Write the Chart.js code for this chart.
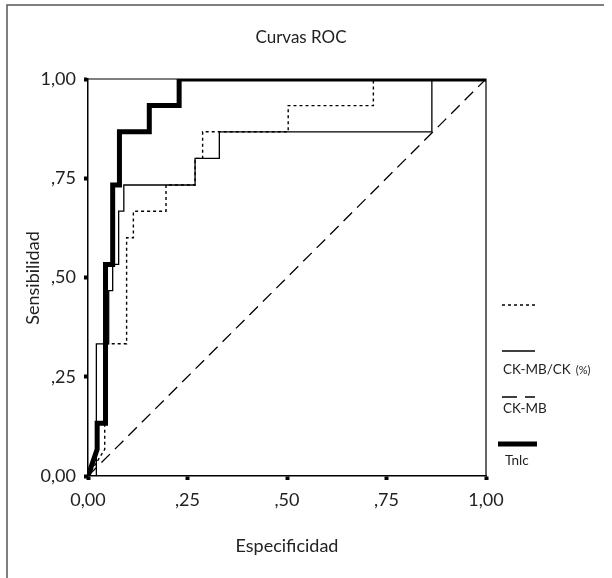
<!DOCTYPE html>
<html>
<head>
<meta charset="utf-8">
<title>Curvas ROC</title>
<script src="https://cdn.jsdelivr.net/npm/chart.js@4.4.1/dist/chart.umd.min.js"></script>
<style>
  html, body { margin: 0; padding: 0; background: #fff; }
  #roc { display: block; }
</style>
</head>
<body>
<canvas id="roc" width="612" height="578"></canvas>
<script>
// texts
const chartTitle = 'Curvas ROC';
const xTitle = 'Especificidad';
const yTitle = 'Sensibilidad';
const tickValues = [0, 0.25, 0.5, 0.75, 1];
const tickLabels = ['0,00', ',25', ',50', ',75', '1,00'];

// ROC curves (1 - especificidad, sensibilidad)
const tnicX = [0, 0.023, 0.023, 0.044, 0.044, 0.062, 0.062, 0.079, 0.079, 0.154, 0.154, 0.229, 0.229, 1];
const tnicY = [0, 0.067, 0.133, 0.133, 0.533, 0.533, 0.733, 0.733, 0.867, 0.867, 0.933, 0.933, 1, 1];

const ratioX = [0, 0.021, 0.021, 0.052, 0.052, 0.062, 0.062, 0.077, 0.077, 0.090, 0.090, 0.269, 0.269, 0.330, 0.330, 0.864, 0.864, 1];
const ratioY = [0, 0, 0.333, 0.333, 0.467, 0.467, 0.533, 0.533, 0.667, 0.667, 0.733, 0.733, 0.8, 0.8, 0.867, 0.867, 1, 1];

const ckmbX = [0, 0.042, 0.042, 0.097, 0.097, 0.114, 0.114, 0.196, 0.196, 0.269, 0.269, 0.288, 0.288, 0.503, 0.503, 0.717, 0.717, 1];
const ckmbY = [0, 0.067, 0.333, 0.333, 0.6, 0.6, 0.667, 0.667, 0.733, 0.733, 0.8, 0.8, 0.867, 0.867, 0.933, 0.933, 1, 1];

const refX = [0, 1];
const refY = [0, 1];

// legend, top to bottom (first entry has no text in the original)
const legendLabels = ['', 'CK-MB/CK', 'CK-MB', 'Tnlc'];
const legendSuffix = ['', '(%)', '', ''];

const FONT = 'Lato, "Noto Sans", sans-serif';
const TEXT = '#222';

function toPoints(xs, ys) {
  return xs.map((x, i) => ({ x: x, y: ys[i] }));
}

function lineSet(xs, ys, width, dash, order) {
  return {
    data: toPoints(xs, ys),
    showLine: true,
    borderColor: '#000',
    borderWidth: width,
    borderDash: dash,
    borderCapStyle: 'butt',
    borderJoinStyle: 'miter',
    pointRadius: 0,
    fill: false,
    tension: 0,
    order: order
  };
}

const datasets = [
  lineSet(tnicX, tnicY, 5, [], 0),
  lineSet(ratioX, ratioY, 1.3, [], 1),
  lineSet(ckmbX, ckmbY, 1.4, [3, 3], 2),
  lineSet(refX, refY, 1.3, [12, 7], 3)
];

// frame, titles and legend
const decor = {
  id: 'decor',
  afterDraw(chart) {
    const ctx = chart.ctx;
    const a = chart.chartArea;
    ctx.save();

    // outer frame
    ctx.strokeStyle = '#555';
    ctx.lineWidth = 1.5;
    ctx.beginPath();
    ctx.moveTo(7, 578);
    ctx.lineTo(7, 5);
    ctx.lineTo(604, 5);
    ctx.stroke();

    // plot frame top and right
    ctx.strokeStyle = '#000';
    ctx.lineWidth = 1.2;
    ctx.beginPath();
    ctx.moveTo(a.left, a.top);
    ctx.lineTo(a.right, a.top);
    ctx.lineTo(a.right, a.bottom);
    ctx.stroke();

    ctx.fillStyle = TEXT;
    ctx.textAlign = 'center';
    ctx.textBaseline = 'middle';
    ctx.font = '17px ' + FONT;
    ctx.fillText(chartTitle, 301, 38);
    ctx.font = '18px ' + FONT;
    ctx.fillText(xTitle, 287, 546);

    ctx.save();
    ctx.translate(33, 278);
    ctx.rotate(-Math.PI / 2);
    ctx.fillText(yTitle, 0, 0);
    ctx.restore();

    // legend samples follow the dataset styles
    const order = [2, 1, 3, 0];
    const lineY = [305, 351, 397, 444];
    const textY = [0, 370, 409, 461];
    order.forEach((di, i) => {
      const ds = datasets[di];
      ctx.strokeStyle = '#000';
      ctx.lineWidth = ds.borderWidth;
      ctx.setLineDash(di === 3 ? [15, 8] : ds.borderDash);
      ctx.lineCap = 'butt';
      ctx.beginPath();
      ctx.moveTo(di === 0 ? 498 : 502, lineY[i]);
      ctx.lineTo(di === 0 ? 537 : 535, lineY[i]);
      ctx.stroke();
      ctx.setLineDash([]);
      if (legendLabels[i]) {
        ctx.textAlign = 'left';
        ctx.font = '13.5px ' + FONT;
        ctx.fillText(legendLabels[i], di === 0 ? 505 : 503, textY[i]);
        if (legendSuffix[i]) {
          const w = ctx.measureText(legendLabels[i]).width;
          ctx.font = '11px ' + FONT;
          ctx.fillText(legendSuffix[i], 503 + w + 5, textY[i]);
        }
      }
    });

    ctx.restore();
  }
};

function axis(size, fit) {
  return {
    type: 'linear',
    min: 0,
    max: 1,
    afterBuildTicks: s => { s.ticks = tickValues.map(v => ({ value: v })); },
    afterFit: fit,
    ticks: {
      callback: v => tickLabels[tickValues.indexOf(v)],
      color: TEXT,
      font: { family: FONT, size: 18 },
      padding: size,
      autoSkip: false,
      maxRotation: 0
    },
    grid: {
      drawOnChartArea: false,
      drawTicks: true,
      tickLength: 4,
      tickWidth: 4,
      tickColor: '#000'
    },
    border: { display: true, color: '#000', width: 1.5 }
  };
}

new Chart(document.getElementById('roc'), {
  type: 'scatter',
  data: { datasets: datasets },
  options: {
    responsive: false,
    animation: false,
    layout: { padding: { top: 79, right: 126, left: 0, bottom: 0 } },
    plugins: {
      legend: { display: false },
      tooltip: { enabled: false },
      title: { display: false }
    },
    scales: {
      x: axis(9, s => { s.height = 102; }),
      y: axis(8, s => { s.width = 88; })
    }
  },
  plugins: [decor]
});
</script>
</body>
</html>
